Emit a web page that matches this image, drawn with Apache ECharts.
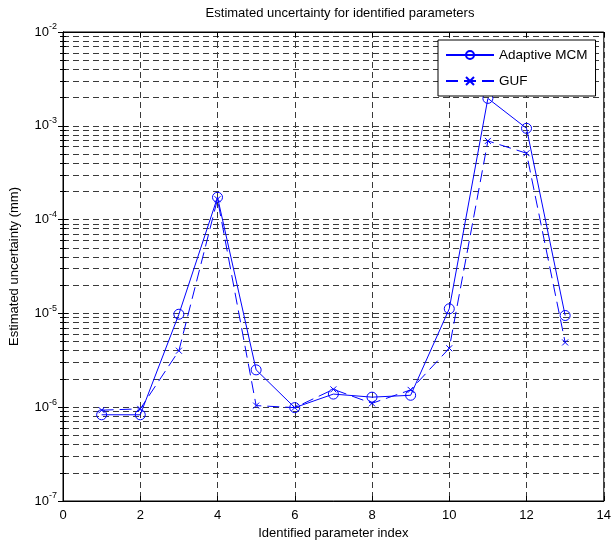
<!DOCTYPE html>
<html>
<head>
<meta charset="utf-8">
<script src="https://cdn.jsdelivr.net/npm/echarts@6/dist/echarts.min.js"></script>
<style>
  html, body { margin: 0; padding: 0; background: #fff; }
  #chart { width: 614px; height: 545px; }
</style>
</head>
<body>
<div id="chart"></div>
<script>
// parameter index (x) and estimated uncertainty in mm (y)
const paramIndex = [1, 2, 3, 4, 5, 6, 7, 8, 9, 10, 11, 12, 13];
const mcmValues = [8.3e-7, 8.3e-7, 9.8e-6, 1.73e-4, 2.5e-6, 9.9e-7, 1.38e-6, 1.28e-6, 1.34e-6, 1.12e-5, 1.96e-3, 9.4e-4, 9.5e-6];
const gufValues = [9.3e-7, 9.6e-7, 4.0e-6, 1.65e-4, 1.04e-6, 9.9e-7, 1.55e-6, 1.1e-6, 1.53e-6, 4.25e-6, 6.9e-4, 5.1e-4, 4.9e-6];
const seriesNames = ['Adaptive MCM', 'GUF'];

const FONT = 'Liberation Sans, Arial, sans-serif';
const BLUE = '#0000ff';
const GRID_COLOR = '#3a3a3a';
const DASH = [6, 4];

const chart = echarts.init(document.getElementById('chart'));

// shared look for the box axes (ticks inside, as in matlab)
const tickStyle = { inside: true, length: 5, lineStyle: { color: '#000' } };
const minorTickStyle = { show: true, splitNumber: 9, inside: true, length: 3, lineStyle: { color: '#000' } };

const option = {
  animation: false,
  textStyle: { fontFamily: FONT },
  title: {
    text: 'Estimated uncertainty for identified parameters',
    left: 335,
    top: 2,
    textAlign: 'center',
    textStyle: { fontFamily: FONT, fontSize: 13, fontWeight: 'normal', color: '#000' }
  },
  legend: {
    orient: 'vertical',
    left: 438,
    top: 40,
    padding: [8, 8, 8, 7],
    itemWidth: 48,
    itemHeight: 10,
    itemGap: 12,
    backgroundColor: '#fff',
    borderColor: '#000',
    borderWidth: 1,
    textStyle: { fontFamily: FONT, fontSize: 13.5, color: '#000' },
    data: seriesNames
  },
  grid: {
    left: 63,
    top: 32,
    width: 544,
    height: 469,
    show: true,
    borderColor: '#000',
    borderWidth: 1
  },
  xAxis: [
    {
      type: 'value',
      min: 0,
      max: 14,
      interval: 2,
      name: 'Identified parameter index',
      nameLocation: 'middle',
      nameGap: 26,
      nameTextStyle: { fontFamily: FONT, fontSize: 13, color: '#000' },
      axisLine: { lineStyle: { color: '#000', width: 1 } },
      axisTick: tickStyle,
      axisLabel: { fontFamily: FONT, fontSize: 13, color: '#000', margin: 8 },
      splitLine: { show: true, lineStyle: { color: GRID_COLOR, type: DASH, width: 1 } }
    },
    {
      type: 'value',
      position: 'top',
      min: 0,
      max: 14,
      interval: 2,
      axisLine: { show: true, lineStyle: { color: '#000', width: 1 } },
      axisTick: { show: true, ...tickStyle },
      axisLabel: { show: false },
      splitLine: { show: false }
    }
  ],
  yAxis: [
    {
      type: 'log',
      logBase: 10,
      min: 1e-7,
      max: 1e-2,
      interval: 1,
      name: 'Estimated uncertainty (mm)',
      nameLocation: 'middle',
      nameGap: 42,
      nameTextStyle: { fontFamily: FONT, fontSize: 13, color: '#000' },
      axisLine: { show: true, lineStyle: { color: '#000', width: 1 } },
      axisTick: tickStyle,
      minorTick: minorTickStyle,
      minorSplitLine: { show: true, lineStyle: { color: GRID_COLOR, type: DASH, width: 1 } },
      axisLabel: {
        margin: 6,
        formatter: v => '{b|10}{s|' + Math.round(Math.log10(v)) + '}',
        rich: {
          b: { fontFamily: FONT, fontSize: 13, color: '#000' },
          s: { fontFamily: FONT, fontSize: 9, color: '#000', padding: [0, 0, 10, 0] }
        }
      },
      splitLine: { show: true, lineStyle: { color: GRID_COLOR, type: DASH, width: 1 } }
    },
    {
      type: 'log',
      logBase: 10,
      position: 'right',
      min: 1e-7,
      max: 1e-2,
      interval: 1,
      axisLine: { show: true, lineStyle: { color: '#000', width: 1 } },
      axisTick: { show: true, ...tickStyle },
      minorTick: minorTickStyle,
      axisLabel: { show: false },
      splitLine: { show: false }
    }
  ],
  series: [
    {
      name: seriesNames[0],
      type: 'line',
      data: paramIndex.map((x, i) => [x, mcmValues[i]]),
      z: 3,
      symbol: 'circle',
      symbolSize: 10,
      showAllSymbol: true,
      color: BLUE,
      itemStyle: { color: 'transparent', borderColor: BLUE, borderWidth: 1 },
      lineStyle: { color: BLUE, width: 1 }
    },
    {
      name: seriesNames[1],
      type: 'line',
      data: paramIndex.map((x, i) => [x, gufValues[i]]),
      z: 3,
      symbol: 'path://M0,0L10,10M10,0L0,10',
      symbolSize: 6,
      showAllSymbol: true,
      color: BLUE,
      itemStyle: { color: 'transparent', borderColor: BLUE, borderWidth: 1 },
      lineStyle: { color: BLUE, width: 1, type: [12, 6] }
    }
  ]
};

chart.setOption(option);
</script>
</body>
</html>
